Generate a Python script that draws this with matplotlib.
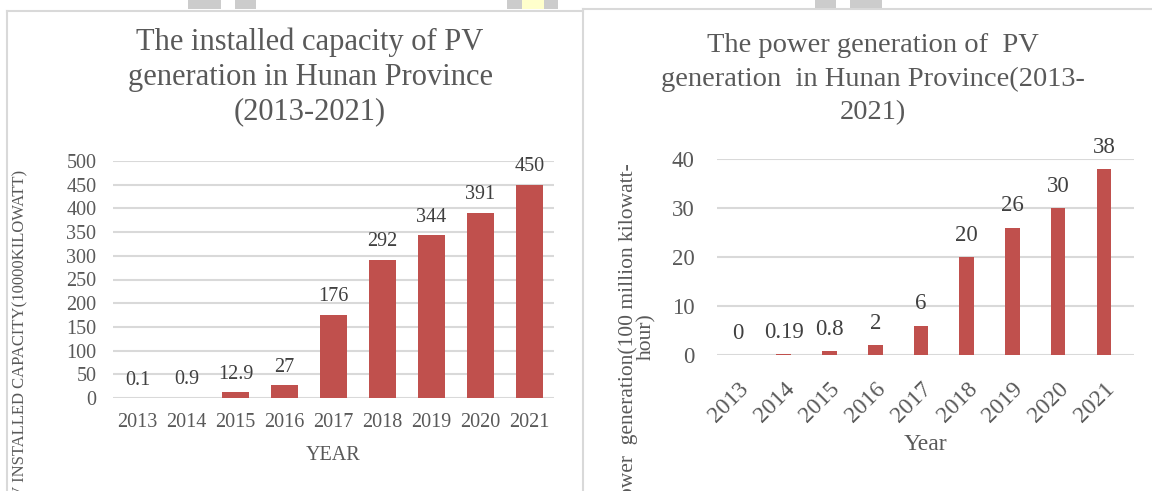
import matplotlib
matplotlib.use("Agg")
import matplotlib.pyplot as plt
from matplotlib.lines import Line2D
from matplotlib.patches import Rectangle

years = ["2013", "2014", "2015", "2016", "2017", "2018", "2019", "2020", "2021"]
capacity = [0.1, 0.9, 12.9, 27, 176, 292, 344, 391, 450]
capacity_labels = ["0.1", "0.9", "12.9", "27", "176", "292", "344", "391", "450"]
generation = [0, 0.19, 0.8, 2, 6, 20, 26, 30, 38]
generation_labels = ["0", "0.19", "0.8", "2", "6", "20", "26", "30", "38"]
cap_ticks = [0, 50, 100, 150, 200, 250, 300, 350, 400, 450, 500]
gen_ticks = [0, 10, 20, 30, 40]

W, H = 1152, 491
BAR = "#C0504D"
GRID = "#D9D9D9"
TXT = "#595959"
LBL = "#404040"
plt.rcParams["font.family"] = ["Liberation Serif", "DejaVu Serif"]

fig = plt.figure(figsize=(W / 100, H / 100), dpi=100)


def fx(px):
    return px / W


def fy(py):
    return 1 - py / H


# panel borders and page artefacts
fig.add_artist(Line2D([fx(7), fx(583)], [fy(10.5), fy(10.5)], color="#D9D9D9", lw=1.5, transform=fig.transFigure))
fig.add_artist(Line2D([fx(7), fx(7)], [fy(10.5), 0], color="#D9D9D9", lw=1.5, transform=fig.transFigure))
fig.add_artist(Line2D([fx(583), 1], [fy(9), fy(9)], color="#D9D9D9", lw=1.5, transform=fig.transFigure))
fig.add_artist(Line2D([fx(583), fx(583)], [fy(9), 0], color="#D9D9D9", lw=1.5, transform=fig.transFigure))
for x0, x1, c in [(188, 221, "#CCCCCC"), (235, 256, "#CCCCCC"), (507, 522, "#CCCCCC"),
                  (522, 544, "#FFFFCC"), (544, 558, "#CCCCCC"), (815, 836, "#CCCCCC"),
                  (850, 882, "#CCCCCC")]:
    fig.add_artist(Rectangle((fx(x0), fy(9)), fx(x1 - x0), 9 / H, facecolor=c,
                             edgecolor="none", transform=fig.transFigure))

# ---------- left chart ----------
ax1 = fig.add_axes([fx(113), fy(398), fx(554 - 113), (398 - 161) / H])
x = list(range(len(years)))
ax1.bar(x, capacity, width=0.57, color=BAR, zorder=3)
ax1.set_xlim(-0.5, 8.5)
ax1.set_ylim(0, 500)
ax1.set_yticks(cap_ticks)
ax1.set_xticks(x)
ax1.set_xticklabels(years)
ax1.grid(axis="y", color=GRID, lw=1.5, zorder=0)
for s in ax1.spines.values():
    s.set_visible(False)
ax1.tick_params(length=0, labelsize=14.5, colors=TXT)
ax1.tick_params(axis="y", pad=12)
ax1.tick_params(axis="x", pad=11)
ax1.set_xlabel("YEAR", fontsize=14.5, color=TXT, labelpad=10)
for xi, v, t in zip(x, capacity, capacity_labels):
    ax1.annotate(t, (xi, v), xytext=(0, 6), textcoords="offset points",
                 ha="center", va="bottom", fontsize=14.5, color=LBL)
fig.text(fx(310), fy(77), "The installed capacity of PV\ngeneration in Hunan Province\n(2013-2021)",
         ha="center", va="center", fontsize=22, color=TXT, linespacing=1.25)
fig.text(fx(20), fy(170), "PV INSTALLED CAPACITY(10000KILOWATT)", rotation=90,
         ha="center", va="top", fontsize=12, color=TXT)

# ---------- right chart ----------
ax2 = fig.add_axes([fx(717), fy(355), fx(1134 - 717), (355 - 159) / H])
ax2.bar(x, generation, width=0.32, color=BAR, zorder=3)
ax2.set_xlim(-0.46, 8.66)
ax2.set_ylim(0, 40)
ax2.set_yticks(gen_ticks)
ax2.set_xticks(x)
ax2.set_xticklabels(years, rotation=45, ha="right", rotation_mode="anchor", fontsize=17)
ax2.grid(axis="y", color=GRID, lw=1.5, zorder=0)
for s in ax2.spines.values():
    s.set_visible(False)
ax2.tick_params(length=0, colors=TXT)
ax2.tick_params(axis="y", pad=16, labelsize=16.5)
ax2.tick_params(axis="x", pad=17)
ax2.set_xlabel("Year", fontsize=17, color=TXT, labelpad=5)
for xi, v, t in zip(x, generation, generation_labels):
    ax2.annotate(t, (xi, v), xytext=(0, 8), textcoords="offset points",
                 ha="center", va="bottom", fontsize=16.5, color=LBL)
fig.text(fx(873), fy(79), "The power generation of  PV\ngeneration  in Hunan Province(2013-\n2021)",
         ha="center", va="center", fontsize=20.5, color=TXT, linespacing=1.45)
fig.text(fx(637), fy(337), "Power  generation(100 million kilowatt-\nhour)", rotation=90,
         ha="center", va="center", multialignment="center", fontsize=15.5, color=TXT,
         linespacing=0.95)

fig.savefig("out.png", dpi=100)
